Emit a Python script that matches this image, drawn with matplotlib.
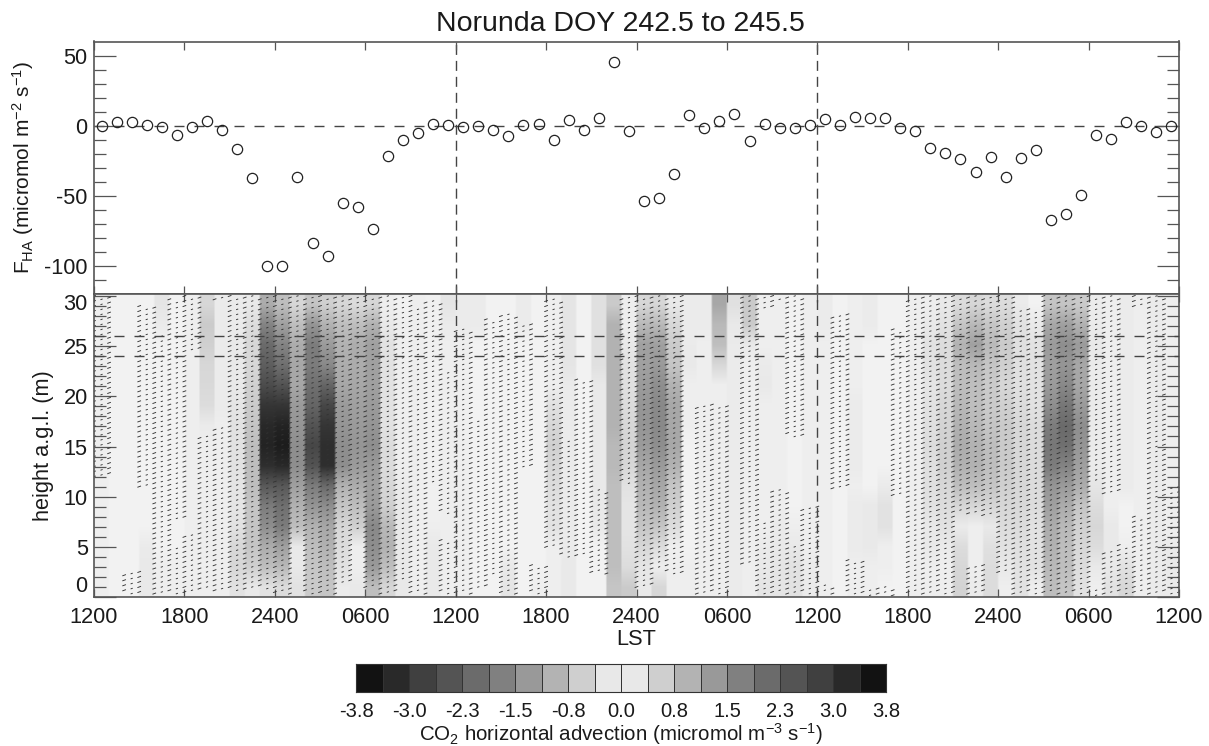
import numpy as np
import matplotlib
matplotlib.use("Agg")
import matplotlib.pyplot as plt
from matplotlib.collections import LineCollection
from matplotlib.colors import LinearSegmentedColormap, ListedColormap, BoundaryNorm
from matplotlib.transforms import ScaledTranslation

plt.rcParams["font.family"] = ["Liberation Sans", "DejaVu Sans"]
plt.rcParams["mathtext.fontset"] = "custom"
plt.rcParams["mathtext.rm"] = "Liberation Sans"
plt.rcParams["mathtext.default"] = "regular"
plt.rcParams["axes.unicode_minus"] = False

title = "Norunda DOY 242.5 to 245.5"
tick_labels = ["1200", "1800", "2400", "0600"] * 3 + ["1200"]
cbar_labels = ["-3.8", "-3.0", "-2.3", "-1.5", "-0.8", "0.0", "0.8", "1.5", "2.3", "3.0", "3.8"]
cbar_grays = [0.07, 0.16, 0.25, 0.33, 0.42, 0.50, 0.60, 0.70, 0.81, 0.91,
              0.91, 0.81, 0.70, 0.60, 0.50, 0.42, 0.33, 0.25, 0.16, 0.07]

# hourly flux (top panel)
flux = [0, 2.5, 2.5, 0.5, -1, -6.5, -1, 3, -3, -17, -37.5, -100.5,
        -100.5, -37, -83.5, -93, -55, -58, -74, -21.5, -10, -5, 1, 0.5,
        -1.2, 0, -3, -7.4, 0.5, 1, -10.5, 4.3, -3, 5.2, 45.7, -4,
        -53.6, -51.4, -34.5, 7.9, -2, 3.3, 8.6, -11.2, 1.2, -1.7, -1.4, 0.5,
        4.5, 0.5, 6.4, 5.7, 5.2, -1.9, -3.8, -15.7, -19.3, -24, -33.3, -22.6,
        -36.4, -23, -17.6, -67.4, -62.9, -49.3, -6.7, -9.8, 2.9, 0, -4.8, -0.5]

# advection size per hour, rows are z = 1, 3, ... 29 m
day1 = [
    [.1, .1, .1, .1, .1, .1, .1, .1, .1, .1, .1, .1, .1, .1, .1],
    [.05, .05, .05, .05, .05, .05, .05, .05, .05, .05, .05, .05, .05, .05, .05],
    [.05, .05, .05, .05, .05, .05, .05, .05, .05, .05, .05, .05, .05, .05, .05],
    [.2, .2, .15, .05, .05, .05, .05, .05, .05, .05, .05, .05, .05, .05, .05],
    [.1, .1, .05, .05, .05, .05, .05, .05, .05, .05, .05, .05, .05, .15, .25],
    [.1, .1, .05, .05, .05, .05, .05, .05, .05, .05, .05, .05, .05, .05, .05],
    [.1, .1, .1, .1, .1, .1, .1, .1, .1, .1, .1, .1, .1, .1, .1],
    [.1, .1, .1, .1, .1, .1, .1, .1, .15, .4, .45, .5, .6, .7, .5],
    [.1, .1, .1, .1, .1, .1, .1, .1, .1, .15, .15, .15, .15, .15, .15],
    [.3, .5, .5, .3, .25, .25, .3, .3, .3, .25, .2, .2, .2, .15, .15],
    [.2, .6, .8, .8, .8, .9, .9, .9, .8, .7, .6, .5, .5, .4, .2],
    [.3, .9, 1.2, 1.7, 2.0, 2.6, 3.3, 3.5, 3.4, 3.2, 2.8, 2.5, 2.3, 1.9, 1.2],
    [.4, 1.0, 1.4, 2.0, 2.2, 2.6, 3.4, 3.6, 3.5, 3.2, 2.7, 2.2, 1.9, 1.4, .9],
    [.3, .2, .2, .9, 1.1, 1.4, 1.7, 1.7, 1.6, 1.5, 1.3, 1.3, 1.2, .9, .5],
    [.7, .8, .9, 1.1, 1.6, 2.0, 2.7, 2.9, 2.7, 2.4, 2.2, 2.0, 2.0, 1.6, .8],
    [.8, .9, 1.1, 1.3, 1.7, 2.3, 3.3, 3.3, 3.2, 2.9, 2.4, 1.8, 1.5, 1.1, .6],
    [.15, .3, .4, .5, .8, 1.1, 1.7, 1.7, 1.6, 1.5, 1.3, 1.2, 1.1, .9, .5],
    [.2, .1, .1, .6, .9, 1.2, 1.5, 1.6, 1.5, 1.4, 1.3, 1.2, 1.2, .9, .4],
    [.9, 1.5, 1.7, 1.8, 1.5, 1.4, 1.5, 1.7, 1.6, 1.5, 1.4, 1.4, 1.4, 1.1, .5],
    [.5, .9, 1.1, 1.0, .6, .5, .4, .4, .3, .3, .3, .3, .3, .2, .1],
    [.2, .2, .2, .2, .2, .15, .1, .1, .1, .1, .1, .1, .1, .1, .05],
    [.1, .1, .1, .1, .1, .1, .1, .1, .1, .1, .1, .1, .1, .1, .1],
    [.2, .2, .2, .1, .08, .08, .08, .08, .08, .08, .08, .08, .08, .08, .08],
    [.1, .1, .1, .1, .1, .1, .1, .1, .1, .1, .1, .1, .1, .15, .25],
]
day2 = [
    [.1, .1, .1, .1, .1, .1, .1, .1, .1, .1, .1, .1, .1, .15, .15],
    [.05, .05, .05, .05, .05, .05, .05, .05, .05, .05, .05, .05, .05, .15, .15],
    [.05, .05, .05, .05, .05, .05, .05, .05, .05, .05, .05, .05, .05, .05, .05],
    [.25, .2, .05, .05, .05, .05, .05, .05, .05, .05, .05, .05, .05, .05, .05],
    [.05, .05, .05, .05, .05, .05, .05, .05, .05, .05, .05, .05, .05, .15, .15],
    [.1, .05, .05, .05, .05, .05, .05, .05, .05, .05, .05, .05, .05, .05, .05],
    [.1, .1, .1, .3, .3, .4, .5, .6, .5, .3, .1, .1, .1, .1, .1],
    [.2, .2, .15, .15, .15, .15, .15, .15, .15, .15, .15, .25, .25, .25, .25],
    [.05, .05, .05, .05, .05, .05, .05, .05, .05, .05, .05, .05, .05, .05, .05],
    [.05, .05, .05, .2, .2, .2, .2, .2, .2, .2, .2, .35, .35, .35, .35],
    [.8, .9, .9, .9, .9, .9, 1.0, 1.0, 1.1, 1.1, 1.1, 1.1, 1.1, 1.1, .7],
    [.7, .4, .3, .25, .25, .3, .5, .55, .5, .4, .35, .3, .2, .1, .1],
    [.2, .25, .5, .8, 1.0, 1.1, 1.3, 1.5, 1.6, 1.6, 1.5, 1.4, 1.4, 1.0, .5],
    [.5, .1, .4, .8, 1.1, 1.3, 1.5, 1.7, 1.8, 1.8, 1.7, 1.5, 1.4, 1.0, .5],
    [.1, .1, .1, .4, .6, .8, 1.1, 1.3, 1.3, 1.3, 1.1, .8, .7, .5, .2],
    [.1, .1, .05, .05, .05, .05, .05, .05, .1, .1, .1, .2, .15, .15, .15],
    [.1, .1, .1, .1, .1, .1, .1, .1, .1, .1, .1, .1, .1, .15, .15],
    [.1, .1, .1, .1, .1, .1, .1, .1, .1, .1, .1, .5, .9, 1.0, 1.3],
    [.15, .15, .15, .15, .15, .15, .15, .15, .15, .15, .15, .15, .15, .2, .35],
    [.1, .1, .1, .1, .1, .1, .1, .1, .1, .1, .1, .1, .2, .7, .7],
    [.25, .2, .15, .1, .1, .1, .1, .1, .1, .1, .2, .15, .1, .1, .1],
    [.25, .25, .2, .15, .1, .1, .1, .1, .1, .1, .1, .1, .1, .1, .1],
    [.3, .3, .2, .1, .05, .05, .05, .05, .05, .05, .05, .05, .05, .05, .05],
    [.15, .15, .1, .1, .1, .1, .1, .1, .1, .1, .1, .1, .1, .1, .1],
]
day3 = [
    [.1, .1, .1, .1, .1, .1, .1, .1, .1, .1, .1, .1, .1, .15, .15],
    [.05, .05, .05, .05, .05, .05, .05, .05, .05, .05, .05, .05, .05, .05, .05],
    [.1, .1, .15, .15, .15, .1, .15, .15, .15, .15, .1, .1, .1, .1, .1],
    [.1, .1, .2, .2, .2, .05, .05, .05, .05, .05, .05, .05, .05, .15, .15],
    [.05, .1, .1, .3, .3, .15, .05, .05, .05, .05, .05, .05, .05, .05, .05],
    [.05, .05, .05, .05, .05, .05, .05, .05, .05, .05, .05, .05, .05, .05, .05],
    [.1, .1, .1, .1, .1, .1, .1, .1, .1, .1, .1, .1, .1, .1, .1],
    [.1, .1, .2, .2, .3, .35, .35, .4, .35, .3, .25, .3, .3, .2, .1],
    [.1, .1, .15, .3, .4, .5, .6, .6, .55, .5, .4, .4, .4, .3, .2],
    [.55, .5, .4, .15, .5, .9, 1.1, 1.2, 1.1, 1.0, .9, .9, 1.1, .8, .4],
    [.15, .1, .1, .1, .5, .9, 1.1, 1.1, 1.0, .9, .9, 1.0, 1.4, 1.0, .5],
    [.4, .4, .35, .2, .5, .8, .9, .9, .8, .7, .7, .8, 1.0, .8, .4],
    [.1, .2, .3, .4, .5, .6, .7, .7, .7, .6, .5, .6, .7, .6, .4],
    [.3, .3, .35, .4, .45, .5, .5, .5, .5, .4, .35, .35, .35, .3, .15],
    [.1, .3, .3, .3, .4, .4, .4, .4, .4, .3, .3, .3, .3, .2, .05],
    [.9, 1.0, 1.1, 1.2, 1.4, 1.6, 2.0, 2.1, 2.0, 1.7, 1.5, 1.4, 1.5, 1.3, .8],
    [.8, .9, .9, 1.0, 1.2, 1.5, 1.9, 2.2, 2.3, 2.1, 1.8, 1.6, 1.7, 1.4, .8],
    [.3, .4, .5, .6, .8, 1.2, 1.4, 1.6, 1.7, 1.5, 1.3, 1.3, 1.5, 1.1, .7],
    [.1, .2, .4, .5, .4, .25, .15, .15, .15, .15, .15, .15, .2, .15, .15],
    [.3, .2, .2, .2, .1, .1, .1, .1, .1, .1, .1, .1, .1, .1, .1],
    [.5, .3, .1, .05, .05, .15, .15, .15, .15, .15, .15, .15, .15, .15, .15],
    [.1, .1, .1, .1, .1, .1, .1, .1, .1, .1, .1, .1, .1, .1, .1],
    [.15, .15, .15, .15, .15, .15, .15, .15, .15, .15, .15, .15, .15, .15, .15],
    [.15, .2, .15, .1, .1, .1, .1, .1, .1, .1, .1, .1, .1, .1, .1],
]

# height spans with stippling for each hour
stipple = [
    [(12, 30)], [], [(0.3, 2.6)], [(11, 29)], [(0.3, 26)], [(0.3, 5), (7.7, 29.7)],
    [(0.6, 6.3), (24.5, 30)], [(0.6, 16)], [(0.6, 17), (29.5, 30)], [(0.6, 29.7)], [(1, 30)], [(0.8, 30)],
    [(0.3, 30)], [(6.5, 30)], [(0.3, 30)], [(0.3, 30)], [(1.2, 30)], [(6.5, 30)],
    [(1, 30)], [(0.3, 30)], [(1.5, 30)], [(0.3, 29)], [(11.5, 29.5)], [(0.3, 5.7), (8.3, 22.7)],
    [(0.3, 26.7)], [(0.7, 17.7)], [(2.3, 27.7)], [(0.3, 28.3)], [(13, 27.3)], [(0.3, 3.2)],
    [(4.7, 29.8)], [(4, 15.7)], [(4, 21.7)], [(2.3, 10.7)], [], [(11.3, 30)],
    [(1, 30)], [(3, 30)], [(2.3, 30)], [], [(0.3, 19.2)], [(0.3, 19.3)],
    [], [(3.3, 30)], [(0.3, 7.7), (28.7, 30)], [(0.3, 10.7), (29.5, 30)], [(0.3, 5.3), (16, 30)], [(0.3, 9)],
    [(0.2, 1.2)], [(10.7, 28.3)], [(0.2, 3.7)], [(0.1, 0.8)], [(0.1, 1)], [(10, 26.7)],
    [(0.2, 29.8)], [(0.2, 30)], [(0.2, 30)], [(8.3, 30)], [(0.2, 3.3), (8.3, 30)], [(8, 30)],
    [(2.3, 30)], [(0.2, 28.8)], [(0.2, 28.7)], [(0.2, 30)], [(0.2, 30)], [(0.2, 30)],
    [(0.1, 0.8), (11.3, 30)], [(0.2, 4.7), (10.3, 30)], [(0.2, 5.3)], [(0.2, 8), (28.8, 30)], [(0.2, 30)], [(0.2, 11)],
]

W, H = 1209, 746
LINE = "#555555"
TEXT = "#1a1a1a"


def box(left, top, right, bottom):
    return [left / W, 1 - bottom / H, (right - left) / W, (bottom - top) / H]


def style(ax):
    for s in ax.spines.values():
        s.set_color(LINE)
        s.set_linewidth(1.2)
    ax.tick_params(axis="x", which="major", direction="in", top=True, bottom=True, length=5.5,
                   width=0.9, color=LINE)
    ax.tick_params(axis="y", which="major", direction="in", left=True, right=True, length=16,
                   width=0.9, color=LINE, pad=4.5)
    ax.tick_params(axis="y", which="minor", direction="in", left=True, right=True, length=8.5,
                   width=0.9, color=LINE)
    ax.tick_params(labelsize=15.7, labelcolor=TEXT)
    ax.set_xlim(0, 72)
    ax.set_xticks(np.arange(0, 73, 6))


hours = np.arange(72) + 0.5
advection = -np.array(day1 + day2 + day3)

fig = plt.figure(figsize=(W / 100, H / 100), dpi=100)
fig.text(620 / W, 1 - 24 / H, title, ha="center", va="center", fontsize=20.5, color=TEXT)

# top panel
ax1 = fig.add_axes(box(94, 41.5, 1179, 294))
style(ax1)
ax1.set_ylim(-120.2, 60)
ax1.set_yticks([50, 0, -50, -100])
ax1.set_yticks(np.arange(-110, 60, 10), minor=True)
ax1.tick_params(labelbottom=False)
ax1.axhline(0, color="#444444", lw=1, dashes=(7.2, 7.2), zorder=1)
for x in (24, 48):
    ax1.axvline(x, color="#444444", lw=1, dashes=(7.2, 4.3), zorder=1)
ax1.plot(hours, flux, "o", mfc="none", mec="#222222", ms=7.4, mew=0.9, zorder=3)
ax1.set_ylabel(r"F$_{HA}$ (micromol m$^{-2}$ s$^{-1}$)", fontsize=15, color=TEXT)
ax1.yaxis.set_label_coords(-0.0535, 0.5)

# bottom panel
ax2 = fig.add_axes(box(94, 294, 1179, 597))
cmap = LinearSegmentedColormap.from_list("adv", [(0.07,) * 3, (0.96,) * 3, (0.07,) * 3])
field = np.repeat(advection.T, 8, axis=1)
ax2.imshow(field, origin="lower", aspect="auto", extent=(0, 72, 0, 30.2), cmap=cmap,
           vmin=-3.8, vmax=3.8, interpolation="bilinear", zorder=0)
style(ax2)
ax2.set_ylim(0, 30.2)
ax2.set_yticks(np.arange(0, 31, 5))
ax2.set_yticks(np.arange(0, 31, 1), minor=True)
ax2.set_xticklabels(tick_labels)
ax2.set_xlabel("LST", fontsize=15.7, color=TEXT, labelpad=1)
ax2.set_ylabel("height a.g.l. (m)", fontsize=15.7, color=TEXT)
ax2.yaxis.set_label_coords(-0.037, 0.5)
ax2.tick_params(axis="x", pad=7)
labels = ax2.get_yticklabels()
labels[0].set_va("bottom")
labels[-1].set_transform(labels[-1].get_transform()
                         + ScaledTranslation(0, -4 / 72, fig.dpi_scale_trans))

# stipple marks, half hour columns and half metre rows
segments = []
for k in range(145):
    x = k * 0.5
    spans = list(stipple[min(int(x), 71)])
    if k % 2 == 0 and k > 0:
        spans += stipple[int(x) - 1]
    half = 0.12 if k % 2 == 0 else 0.07
    rise = half * 0.55
    for j in range(61):
        z = j * 0.5 + (k % 3) * 0.17
        if any(lo <= z <= hi for lo, hi in spans):
            segments.append([(x - half, z - rise), (x + half, z + rise)])
ax2.add_collection(LineCollection(segments, colors="#333333", linewidths=0.65, zorder=2))

for z in (24, 26):
    ax2.axhline(z, color="#444444", lw=1, dashes=(7.2, 7.2), zorder=3)
for x in (24, 48):
    ax2.axvline(x, color="#444444", lw=1, dashes=(7.2, 4.3), zorder=3)

# grey scale bar
ax3 = fig.add_axes(box(356, 664, 886, 692))
edges = np.linspace(-3.8, 3.8, 21)
ax3.pcolormesh(edges, [0, 1], [edges[:-1] + 0.19], cmap=ListedColormap([(g,) * 3 for g in cbar_grays]),
               norm=BoundaryNorm(edges, 20), edgecolors="#333333", linewidth=0.7)
for s in ax3.spines.values():
    s.set_color("#333333")
ax3.set_yticks([])
ax3.set_xticks(edges[::2])
ax3.set_xticklabels(cbar_labels, fontsize=14.5, color=TEXT)
ax3.tick_params(axis="x", length=0, pad=7)
ax3.set_xlabel(r"CO$_{2}$ horizontal advection (micromol m$^{-3}$ s$^{-1}$)", fontsize=14.8,
               color=TEXT, labelpad=0)

fig.savefig("out.png", dpi=100)
